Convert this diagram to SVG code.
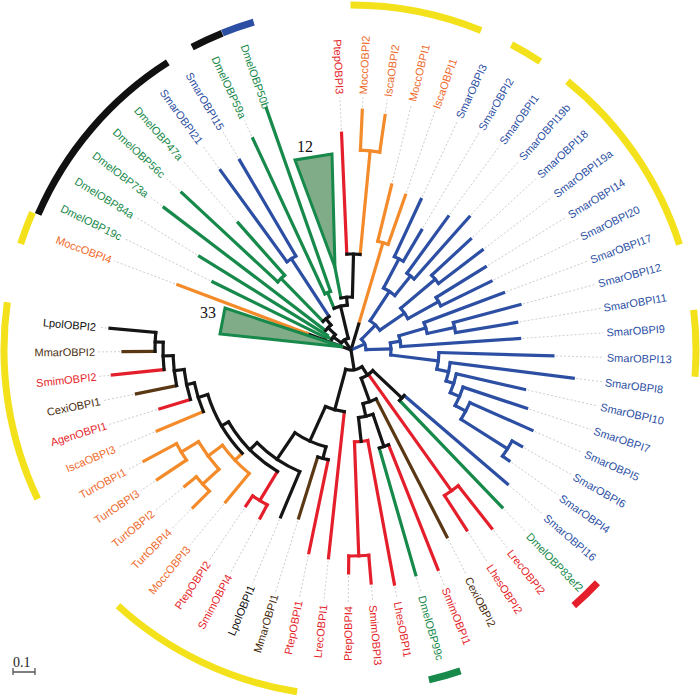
<svg xmlns="http://www.w3.org/2000/svg" width="700" height="696" viewBox="0 0 700 696">
<style>
.t line,.t circle{fill:none;stroke-width:3.2;stroke-linecap:square}
.k{stroke:#151515}.b{stroke:#2c4fa3}.g{stroke:#17894b}.r{stroke:#e41f2b}.o{stroke:#f48b2a}.n{stroke:#5a3814}
.d line{stroke:#c4c4c4;stroke-width:0.8;stroke-dasharray:2 2}
text{font-family:"Liberation Sans",Arial,sans-serif;font-size:11px;dominant-baseline:central}
.L{text-anchor:end}
.tb{fill:#2c4fa3}.tg{fill:#17894b}.tr{fill:#e41f2b}.to{fill:#ee6a2c}.tn{fill:#4a2e10}.tk{fill:#111}
.oa circle{fill:none;stroke-width:7}
.num{font-family:"Liberation Serif",serif;font-size:16px;fill:#111;dominant-baseline:auto}
</style>
<rect width="700" height="696" fill="#fff"/>
<g transform="translate(351,350)">
<g id="outer" class="oa">
<circle r="345" stroke="#f3e21b" transform="rotate(-90.08)" stroke-dasharray="133.9 3000"/>
<circle r="345" stroke="#f3e21b" transform="rotate(-62.28)" stroke-dasharray="33.48 3000"/>
<circle r="345" stroke="#f3e21b" transform="rotate(-51.16)" stroke-dasharray="200.9 3000"/>
<circle r="345" stroke="#f3e21b" transform="rotate(-6.68)" stroke-dasharray="66.96 3000"/>
<circle r="339" stroke="#e41f2b" transform="rotate(43.36)" stroke-dasharray="32.9 3000"/>
<circle r="339" stroke="#17894b" transform="rotate(71.16)" stroke-dasharray="32.9 3000"/>
<circle r="346" stroke="#f3e21b" transform="rotate(98.96)" stroke-dasharray="201.45 3000"/>
<circle r="347" stroke="#f3e21b" transform="rotate(154.56)" stroke-dasharray="202 3000"/>
<circle r="347" stroke="#f3e21b" transform="rotate(197.82)" stroke-dasharray="33.67 3000"/>
<circle r="341" stroke="#111" transform="rotate(203.42)" stroke-dasharray="202.8 3000"/>
<circle r="342" stroke="#111" transform="rotate(242.32)" stroke-dasharray="33.19 3000"/>
<circle r="342" stroke="#2c4fa3" transform="rotate(247.92)" stroke-dasharray="33.19 3000"/>
</g>
<g id="leaders" class="d">
<line x1="243" x2="253" transform="rotate(-87.3)"/><line x1="240" x2="253" transform="rotate(-81.74)"/><line x1="173" x2="253" transform="rotate(-76.18)"/><line x1="167" x2="253" transform="rotate(-70.62)"/>
<line x1="169" x2="253" transform="rotate(-65.06)"/><line x1="142" x2="253" transform="rotate(-59.5)"/><line x1="168" x2="253" transform="rotate(-53.94)"/><line x1="181" x2="253" transform="rotate(-48.38)"/>
<line x1="166" x2="253" transform="rotate(-42.82)"/><line x1="168" x2="253" transform="rotate(-37.26)"/><line x1="161" x2="253" transform="rotate(-31.7)"/><line x1="159" x2="253" transform="rotate(-26.14)"/>
<line x1="166" x2="253" transform="rotate(-20.58)"/><line x1="178" x2="253" transform="rotate(-15.02)"/><line x1="171" x2="253" transform="rotate(-9.46)"/><line x1="172" x2="253" transform="rotate(-3.9)"/>
<line x1="205" x2="253" transform="rotate(1.66)"/><line x1="227" x2="253" transform="rotate(7.22)"/><line x1="181" x2="253" transform="rotate(12.78)"/><line x1="188" x2="253" transform="rotate(18.34)"/>
<line x1="201" x2="253" transform="rotate(23.9)"/><line x1="199" x2="253" transform="rotate(29.46)"/><line x1="196" x2="253" transform="rotate(35.02)"/><line x1="209" x2="253" transform="rotate(40.58)"/>
<line x1="221" x2="253" transform="rotate(46.14)"/><line x1="230" x2="253" transform="rotate(51.7)"/><line x1="217" x2="253" transform="rotate(57.26)"/><line x1="213" x2="253" transform="rotate(62.82)"/>
<line x1="239" x2="253" transform="rotate(68.38)"/><line x1="237" x2="253" transform="rotate(73.94)"/><line x1="241" x2="253" transform="rotate(79.5)"/><line x1="237" x2="253" transform="rotate(85.06)"/>
<line x1="226" x2="253" transform="rotate(90.62)"/><line x1="212" x2="253" transform="rotate(96.18)"/><line x1="210" x2="253" transform="rotate(101.74)"/><line x1="179" x2="253" transform="rotate(107.3)"/>
<line x1="184" x2="253" transform="rotate(112.86)"/><line x1="194" x2="253" transform="rotate(118.42)"/><line x1="191" x2="253" transform="rotate(123.98)"/><line x1="200" x2="253" transform="rotate(129.54)"/>
<line x1="226" x2="253" transform="rotate(135.1)"/><line x1="218" x2="253" transform="rotate(140.66)"/><line x1="236" x2="253" transform="rotate(146.22)"/><line x1="238" x2="253" transform="rotate(151.78)"/>
<line x1="213" x2="253" transform="rotate(157.34)"/><line x1="203" x2="253" transform="rotate(162.9)"/><line x1="222" x2="253" transform="rotate(168.46)"/><line x1="243" x2="253" transform="rotate(174.02)"/>
<line x1="231" x2="253" transform="rotate(179.58)"/><line x1="245" x2="253" transform="rotate(185.14)"/><line x1="188" x2="253" transform="rotate(200.6)"/><line x1="157" x2="253" transform="rotate(206.2)"/>
<line x1="181" x2="253" transform="rotate(211.7)"/><line x1="238" x2="253" transform="rotate(217.3)"/><line x1="234" x2="253" transform="rotate(222.9)"/><line x1="173" x2="253" transform="rotate(228.4)"/>
<line x1="225" x2="253" transform="rotate(234)"/><line x1="223" x2="253" transform="rotate(239.6)"/><line x1="236" x2="253" transform="rotate(245.1)"/><line x1="220" x2="253" transform="rotate(267.5)"/>
</g>
<g id="connectors" class="t">
<line class="r" x1="96" x2="217" transform="rotate(267.5)"/>
<line class="o" x1="200" x2="240" transform="rotate(272.7)"/>
<line class="o" x1="200" x2="237" transform="rotate(278.26)"/>
<circle class="o" r="200" transform="rotate(272.7)" stroke-dasharray="19.41 3000"/>
<line class="o" x1="96" x2="200" transform="rotate(275.48)"/>
<circle class="k" r="96" transform="rotate(267.5)" stroke-dasharray="13.37 3000"/>
<line class="k" x1="53" x2="96" transform="rotate(271.5)"/>
<line class="g" x1="53" x2="84" transform="rotate(259)"/>
<circle class="k" r="53" transform="rotate(259)" stroke-dasharray="11.56 3000"/>
<line class="k" x1="45" x2="53" transform="rotate(265.25)"/>
<line class="g" x1="62" x2="233" transform="rotate(245.1)"/>
<line class="g" x1="62" x2="256" transform="rotate(250.7)"/>
<circle class="g" r="62" transform="rotate(245.1)" stroke-dasharray="6.06 3000"/>
<line class="g" x1="45" x2="62" transform="rotate(247.9)"/>
<circle class="k" r="45" transform="rotate(247.9)" stroke-dasharray="13.63 3000"/>
<line class="k" x1="12" x2="45" transform="rotate(256.6)"/>
<line class="b" x1="109" x2="222" transform="rotate(234)"/>
<line class="b" x1="109" x2="220" transform="rotate(239.6)"/>
<circle class="b" r="109" transform="rotate(234)" stroke-dasharray="10.65 3000"/>
<line class="b" x1="40" x2="109" transform="rotate(236.8)"/>
<line class="g" x1="100" x2="231" transform="rotate(222.9)"/>
<line class="g" x1="100" x2="170" transform="rotate(228.4)"/>
<circle class="g" r="100" transform="rotate(222.9)" stroke-dasharray="9.6 3000"/>
<line class="g" x1="40" x2="100" transform="rotate(225.65)"/>
<circle class="k" r="40" transform="rotate(225.65)" stroke-dasharray="7.78 3000"/>
<line class="k" x1="32" x2="40" transform="rotate(231.2)"/>
<line class="g" x1="32" x2="235" transform="rotate(217.3)"/>
<circle class="k" r="32" transform="rotate(217.3)" stroke-dasharray="7.76 3000"/>
<line class="k" x1="22" x2="32" transform="rotate(224.3)"/>
<line class="g" x1="28" x2="178" transform="rotate(211.7)"/>
<line class="g" x1="28" x2="154" transform="rotate(206.2)"/>
<circle class="g" r="28" transform="rotate(206.2)" stroke-dasharray="2.69 3000"/>
<line class="g" x1="22" x2="28" transform="rotate(208.95)"/>
<circle class="k" r="22" transform="rotate(208.95)" stroke-dasharray="5.89 3000"/>
<line class="k" x1="12" x2="22" transform="rotate(216.6)"/>
<circle class="k" r="12" transform="rotate(216.6)" stroke-dasharray="8.38 3000"/>
<line class="k" x1="0" x2="12" transform="rotate(236.6)"/>
<line class="k" x1="0" x2="47" transform="rotate(200.6)"/>
<line class="o" x1="47" x2="185" transform="rotate(200.6)"/>
<polygon points="-16,-82.5 -56,-190 -19,-196" fill="#80ad88" stroke="#17894b" stroke-width="3" stroke-linejoin="miter"/>
<polygon points="-8,-3 -126,-42 -131,-16" fill="#80ad88" stroke="#17894b" stroke-width="3" stroke-linejoin="miter"/>
<line class="o" x1="112" x2="170" transform="rotate(-76.18)"/>
<line class="o" x1="112" x2="164" transform="rotate(-70.62)"/>
<circle class="o" r="112" transform="rotate(-76.18)" stroke-dasharray="10.87 3000"/>
<line class="o" x1="27" x2="112" transform="rotate(-73.4)"/>
<line class="k" x1="0" x2="27" transform="rotate(-73.4)"/>
<line class="b" x1="103" x2="166" transform="rotate(-65.06)"/>
<line class="b" x1="103" x2="139" transform="rotate(-59.5)"/>
<circle class="b" r="103" transform="rotate(-65.06)" stroke-dasharray="10 3000"/>
<line class="b" x1="70" x2="103" transform="rotate(-62.28)"/>
<line class="b" x1="95" x2="165" transform="rotate(-53.94)"/>
<line class="b" x1="95" x2="178" transform="rotate(-48.38)"/>
<circle class="b" r="95" transform="rotate(-53.94)" stroke-dasharray="9.22 3000"/>
<line class="b" x1="70" x2="95" transform="rotate(-51.16)"/>
<circle class="b" r="70" transform="rotate(-62.28)" stroke-dasharray="13.59 3000"/>
<line class="b" x1="35" x2="70" transform="rotate(-56.72)"/>
<line class="b" x1="110" x2="163" transform="rotate(-42.82)"/>
<line class="b" x1="110" x2="165" transform="rotate(-37.26)"/>
<circle class="b" r="110" transform="rotate(-42.82)" stroke-dasharray="10.67 3000"/>
<line class="b" x1="65" x2="110" transform="rotate(-40.04)"/>
<line class="b" x1="100" x2="158" transform="rotate(-31.7)"/>
<line class="b" x1="100" x2="156" transform="rotate(-26.14)"/>
<circle class="b" r="100" transform="rotate(-31.7)" stroke-dasharray="9.7 3000"/>
<line class="b" x1="65" x2="100" transform="rotate(-28.92)"/>
<circle class="b" r="65" transform="rotate(-40.04)" stroke-dasharray="12.62 3000"/>
<line class="b" x1="35" x2="65" transform="rotate(-34.48)"/>
<circle class="b" r="35" transform="rotate(-56.72)" stroke-dasharray="13.59 3000"/>
<line class="b" x1="15" x2="35" transform="rotate(-45.6)"/>
<line class="b" x1="106" x2="175" transform="rotate(-15.02)"/>
<line class="b" x1="106" x2="168" transform="rotate(-9.46)"/>
<circle class="b" r="106" transform="rotate(-15.02)" stroke-dasharray="10.29 3000"/>
<line class="b" x1="78" x2="106" transform="rotate(-12.24)"/>
<line class="b" x1="78" x2="163" transform="rotate(-20.58)"/>
<circle class="b" r="78" transform="rotate(-20.58)" stroke-dasharray="11.35 3000"/>
<line class="b" x1="50" x2="78" transform="rotate(-16.41)"/>
<line class="b" x1="50" x2="169" transform="rotate(-3.9)"/>
<circle class="b" r="50" transform="rotate(-16.41)" stroke-dasharray="10.92 3000"/>
<line class="b" x1="40" x2="50" transform="rotate(-10.16)"/>
<line class="b" x1="185" x2="196" transform="rotate(29.46)"/>
<line class="b" x1="185" x2="193" transform="rotate(35.02)"/>
<circle class="b" r="185" transform="rotate(29.46)" stroke-dasharray="17.95 3000"/>
<line class="b" x1="130" x2="185" transform="rotate(32.24)"/>
<line class="b" x1="130" x2="198" transform="rotate(23.9)"/>
<circle class="b" r="130" transform="rotate(23.9)" stroke-dasharray="18.92 3000"/>
<line class="b" x1="118" x2="130" transform="rotate(28.07)"/>
<line class="b" x1="118" x2="185" transform="rotate(18.34)"/>
<circle class="b" r="118" transform="rotate(18.34)" stroke-dasharray="20.04 3000"/>
<line class="b" x1="108" x2="118" transform="rotate(23.2)"/>
<line class="b" x1="108" x2="178" transform="rotate(12.78)"/>
<circle class="b" r="108" transform="rotate(12.78)" stroke-dasharray="19.64 3000"/>
<line class="b" x1="100" x2="108" transform="rotate(18)"/>
<line class="b" x1="100" x2="224" transform="rotate(7.22)"/>
<circle class="b" r="100" transform="rotate(7.22)" stroke-dasharray="18.81 3000"/>
<line class="b" x1="88" x2="100" transform="rotate(12.6)"/>
<line class="b" x1="88" x2="202" transform="rotate(1.66)"/>
<circle class="b" r="88" transform="rotate(1.66)" stroke-dasharray="16.8 3000"/>
<line class="b" x1="40" x2="88" transform="rotate(7.13)"/>
<circle class="b" r="40" transform="rotate(-10.16)" stroke-dasharray="12.07 3000"/>
<line class="b" x1="15" x2="40" transform="rotate(-1.52)"/>
<circle class="b" r="15" transform="rotate(-45.6)" stroke-dasharray="11.54 3000"/>
<line class="b" x1="0" x2="15" transform="rotate(-23.56)"/>
<line class="b" x1="70" x2="206" transform="rotate(40.58)"/>
<line class="g" x1="70" x2="218" transform="rotate(46.14)"/>
<circle class="k" r="70" transform="rotate(40.58)" stroke-dasharray="6.79 3000"/>
<line class="k" x1="30" x2="70" transform="rotate(43.36)"/>
<line class="r" x1="173" x2="227" transform="rotate(51.7)"/>
<line class="r" x1="173" x2="214" transform="rotate(57.26)"/>
<circle class="r" r="173" transform="rotate(51.7)" stroke-dasharray="16.79 3000"/>
<line class="r" x1="30" x2="173" transform="rotate(54.48)"/>
<line class="r" x1="102" x2="236" transform="rotate(68.38)"/>
<line class="g" x1="102" x2="234" transform="rotate(73.94)"/>
<circle class="k" r="102" transform="rotate(68.38)" stroke-dasharray="9.9 3000"/>
<line class="k" x1="68" x2="102" transform="rotate(71.16)"/>
<line class="r" x1="206" x2="234" transform="rotate(85.06)"/>
<line class="r" x1="206" x2="223" transform="rotate(90.62)"/>
<circle class="r" r="206" transform="rotate(85.06)" stroke-dasharray="19.99 3000"/>
<line class="r" x1="92" x2="206" transform="rotate(87.84)"/>
<line class="r" x1="92" x2="238" transform="rotate(79.5)"/>
<circle class="r" r="92" transform="rotate(79.5)" stroke-dasharray="13.39 3000"/>
<line class="k" x1="68" x2="92" transform="rotate(83.67)"/>
<circle class="k" r="68" transform="rotate(71.16)" stroke-dasharray="14.85 3000"/>
<line class="k" x1="55" x2="68" transform="rotate(77.4)"/>
<line class="n" x1="55" x2="210" transform="rotate(62.82)"/>
<circle class="k" r="55" transform="rotate(62.82)" stroke-dasharray="14 3000"/>
<line class="k" x1="30" x2="55" transform="rotate(70.1)"/>
<circle class="k" r="30" transform="rotate(43.36)" stroke-dasharray="14 3000"/>
<line class="k" x1="20" x2="30" transform="rotate(56.73)"/>
<line class="k" x1="196" x2="242" transform="rotate(185.14)"/>
<line class="n" x1="196" x2="228" transform="rotate(179.58)"/>
<circle class="k" r="196" transform="rotate(179.58)" stroke-dasharray="19.02 3000"/>
<line class="k" x1="188" x2="196" transform="rotate(182.36)"/>
<line class="r" x1="188" x2="240" transform="rotate(174.02)"/>
<circle class="k" r="188" transform="rotate(174.02)" stroke-dasharray="27.36 3000"/>
<line class="k" x1="178" x2="188" transform="rotate(178.19)"/>
<line class="n" x1="178" x2="219" transform="rotate(168.46)"/>
<circle class="k" r="178" transform="rotate(168.46)" stroke-dasharray="30.23 3000"/>
<line class="k" x1="168" x2="178" transform="rotate(173.33)"/>
<line class="r" x1="168" x2="200" transform="rotate(162.9)"/>
<circle class="k" r="168" transform="rotate(162.9)" stroke-dasharray="30.58 3000"/>
<line class="k" x1="160" x2="168" transform="rotate(168.1)"/>
<line class="o" x1="160" x2="210" transform="rotate(157.34)"/>
<circle class="k" r="160" transform="rotate(157.34)" stroke-dasharray="30.05 3000"/>
<line class="k" x1="150" x2="160" transform="rotate(162.72)"/>
<line class="o" x1="198" x2="235" transform="rotate(151.78)"/>
<line class="o" x1="198" x2="233" transform="rotate(146.22)"/>
<circle class="o" r="198" transform="rotate(146.22)" stroke-dasharray="19.21 3000"/>
<line class="o" x1="178" x2="198" transform="rotate(149)"/>
<line class="o" x1="200" x2="215" transform="rotate(140.66)"/>
<line class="o" x1="200" x2="223" transform="rotate(135.1)"/>
<circle class="o" r="200" transform="rotate(135.1)" stroke-dasharray="19.41 3000"/>
<line class="o" x1="178" x2="200" transform="rotate(137.88)"/>
<circle class="o" r="178" transform="rotate(137.88)" stroke-dasharray="34.55 3000"/>
<line class="o" x1="160" x2="178" transform="rotate(143.44)"/>
<line class="o" x1="160" x2="197" transform="rotate(129.54)"/>
<circle class="o" r="160" transform="rotate(129.54)" stroke-dasharray="38.82 3000"/>
<line class="o" x1="150" x2="160" transform="rotate(136.49)"/>
<circle class="k" r="150" transform="rotate(136.49)" stroke-dasharray="68.67 3000"/>
<line class="k" x1="142" x2="150" transform="rotate(149.6)"/>
<line class="r" x1="176" x2="191" transform="rotate(118.42)"/>
<line class="r" x1="176" x2="188" transform="rotate(123.98)"/>
<circle class="r" r="176" transform="rotate(118.42)" stroke-dasharray="17.08 3000"/>
<line class="r" x1="142" x2="176" transform="rotate(121.2)"/>
<circle class="k" r="142" transform="rotate(121.2)" stroke-dasharray="70.38 3000"/>
<line class="k" x1="132" x2="142" transform="rotate(135.4)"/>
<line class="k" x1="132" x2="181" transform="rotate(112.86)"/>
<circle class="k" r="132" transform="rotate(112.86)" stroke-dasharray="51.93 3000"/>
<line class="k" x1="100" x2="132" transform="rotate(124.13)"/>
<line class="n" x1="112" x2="176" transform="rotate(107.3)"/>
<line class="r" x1="112" x2="207" transform="rotate(101.74)"/>
<circle class="k" r="112" transform="rotate(101.74)" stroke-dasharray="10.87 3000"/>
<line class="k" x1="100" x2="112" transform="rotate(104.52)"/>
<circle class="k" r="100" transform="rotate(104.52)" stroke-dasharray="34.23 3000"/>
<line class="k" x1="62" x2="100" transform="rotate(114.33)"/>
<line class="r" x1="62" x2="209" transform="rotate(96.18)"/>
<circle class="k" r="62" transform="rotate(96.18)" stroke-dasharray="19.64 3000"/>
<line class="k" x1="20" x2="62" transform="rotate(105.25)"/>
<circle class="k" r="20" transform="rotate(56.73)" stroke-dasharray="16.94 3000"/>
<line class="k" x1="0" x2="20" transform="rotate(81)"/>
</g>
<g id="labels">
<g id="n-MoccOBPI2"><text class="to" x="256" transform="rotate(-87.3)">MoccOBPI2</text></g>
<g id="n-IscaOBPI2"><text class="to" x="256" transform="rotate(-81.74)">IscaOBPI2</text></g>
<g id="n-MoccOBPI1"><text class="to" x="256" transform="rotate(-76.18)">MoccOBPI1</text></g>
<g id="n-IscaOBPI1"><text class="to" x="256" transform="rotate(-70.62)">IscaOBPI1</text></g>
<g id="n-SmarOBPI3"><text class="tb" x="256" transform="rotate(-65.06)">SmarOBPI3</text></g>
<g id="n-SmarOBPI2"><text class="tb" x="256" transform="rotate(-59.5)">SmarOBPI2</text></g>
<g id="n-SmarOBPI1"><text class="tb" x="256" transform="rotate(-53.94)">SmarOBPI1</text></g>
<g id="n-SmarOBPI19b"><text class="tb" x="256" transform="rotate(-48.38)">SmarOBPI19b</text></g>
<g id="n-SmarOBPI18"><text class="tb" x="256" transform="rotate(-42.82)">SmarOBPI18</text></g>
<g id="n-SmarOBPI19a"><text class="tb" x="256" transform="rotate(-37.26)">SmarOBPI19a</text></g>
<g id="n-SmarOBPI14"><text class="tb" x="256" transform="rotate(-31.7)">SmarOBPI14</text></g>
<g id="n-SmarOBPI20"><text class="tb" x="256" transform="rotate(-26.14)">SmarOBPI20</text></g>
<g id="n-SmarOBPI17"><text class="tb" x="256" transform="rotate(-20.58)">SmarOBPI17</text></g>
<g id="n-SmarOBPI12"><text class="tb" x="256" transform="rotate(-15.02)">SmarOBPI12</text></g>
<g id="n-SmarOBPI11"><text class="tb" x="256" transform="rotate(-9.46)">SmarOBPI11</text></g>
<g id="n-SmarOBPI9"><text class="tb" x="256" transform="rotate(-3.9)">SmarOBPI9</text></g>
<g id="n-SmarOBPI13"><text class="tb" x="256" transform="rotate(1.66)">SmarOBPI13</text></g>
<g id="n-SmarOBPI8"><text class="tb" x="256" transform="rotate(7.22)">SmarOBPI8</text></g>
<g id="n-SmarOBPI10"><text class="tb" x="256" transform="rotate(12.78)">SmarOBPI10</text></g>
<g id="n-SmarOBPI7"><text class="tb" x="256" transform="rotate(18.34)">SmarOBPI7</text></g>
<g id="n-SmarOBPI5"><text class="tb" x="256" transform="rotate(23.9)">SmarOBPI5</text></g>
<g id="n-SmarOBPI6"><text class="tb" x="256" transform="rotate(29.46)">SmarOBPI6</text></g>
<g id="n-SmarOBPI4"><text class="tb" x="256" transform="rotate(35.02)">SmarOBPI4</text></g>
<g id="n-SmarOBPI16"><text class="tb" x="256" transform="rotate(40.58)">SmarOBPI16</text></g>
<g id="n-DmelOBP83ef2"><text class="tg" x="256" transform="rotate(46.14)">DmelOBP83ef2</text></g>
<g id="n-LrecOBPI2"><text class="tr" x="256" transform="rotate(51.7)">LrecOBPI2</text></g>
<g id="n-LhesOBPI2"><text class="tr" x="256" transform="rotate(57.26)">LhesOBPI2</text></g>
<g id="n-CexiOBPI2"><text class="tn" x="256" transform="rotate(62.82)">CexiOBPI2</text></g>
<g id="n-SmimOBPI1"><text class="tr" x="256" transform="rotate(68.38)">SmimOBPI1</text></g>
<g id="n-DmelOBP99c"><text class="tg" x="256" transform="rotate(73.94)">DmelOBP99c</text></g>
<g id="n-LhesOBPI1"><text class="tr" x="256" transform="rotate(79.5)">LhesOBPI1</text></g>
<g id="n-SmimOBPI3"><text class="tr" x="256" transform="rotate(85.06)">SmimOBPI3</text></g>
<g id="n-PtepOBPI4"><text class="tr L" x="-256" transform="rotate(-89.38)">PtepOBPI4</text></g>
<g id="n-LrecOBPI1"><text class="tr L" x="-256" transform="rotate(-83.82)">LrecOBPI1</text></g>
<g id="n-PtepOBPI1"><text class="tr L" x="-256" transform="rotate(-78.26)">PtepOBPI1</text></g>
<g id="n-MmarOBPI1"><text class="tn L" x="-256" transform="rotate(-72.7)">MmarOBPI1</text></g>
<g id="n-LpolOBPI1"><text class="tk L" x="-256" transform="rotate(-67.14)">LpolOBPI1</text></g>
<g id="n-SmimOBPI4"><text class="tr L" x="-256" transform="rotate(-61.58)">SmimOBPI4</text></g>
<g id="n-PtepOBPI2"><text class="tr L" x="-256" transform="rotate(-56.02)">PtepOBPI2</text></g>
<g id="n-MoccOBPI3"><text class="to L" x="-256" transform="rotate(-50.46)">MoccOBPI3</text></g>
<g id="n-TurtOBPI4"><text class="to L" x="-256" transform="rotate(-44.9)">TurtOBPI4</text></g>
<g id="n-TurtOBPI2"><text class="to L" x="-256" transform="rotate(-39.34)">TurtOBPI2</text></g>
<g id="n-TurtOBPI3"><text class="to L" x="-256" transform="rotate(-33.78)">TurtOBPI3</text></g>
<g id="n-TurtOBPI1"><text class="to L" x="-256" transform="rotate(-28.22)">TurtOBPI1</text></g>
<g id="n-IscaOBPI3"><text class="to L" x="-256" transform="rotate(-22.66)">IscaOBPI3</text></g>
<g id="n-AgenOBPI1"><text class="tr L" x="-256" transform="rotate(-17.1)">AgenOBPI1</text></g>
<g id="n-CexiOBPI1"><text class="tn L" x="-256" transform="rotate(-11.54)">CexiOBPI1</text></g>
<g id="n-SmimOBPI2"><text class="tr L" x="-256" transform="rotate(-5.98)">SmimOBPI2</text></g>
<g id="n-MmarOBPI2"><text class="tn L" x="-256" transform="rotate(-0.42)">MmarOBPI2</text></g>
<g id="n-LpolOBPI2"><text class="tk L" x="-256" transform="rotate(5.14)">LpolOBPI2</text></g>
<g id="n-MoccOBPI4"><text class="to L" x="-256" transform="rotate(20.6)">MoccOBPI4</text></g>
<g id="n-DmelOBP19c"><text class="tg L" x="-256" transform="rotate(26.2)">DmelOBP19c</text></g>
<g id="n-DmelOBP84a"><text class="tg L" x="-256" transform="rotate(31.7)">DmelOBP84a</text></g>
<g id="n-DmelOBP73a"><text class="tg L" x="-256" transform="rotate(37.3)">DmelOBP73a</text></g>
<g id="n-DmelOBP56c"><text class="tg L" x="-256" transform="rotate(42.9)">DmelOBP56c</text></g>
<g id="n-DmelOBP47a"><text class="tg L" x="-256" transform="rotate(48.4)">DmelOBP47a</text></g>
<g id="n-SmarOBPI21"><text class="tb L" x="-256" transform="rotate(54)">SmarOBPI21</text></g>
<g id="n-SmarOBPI15"><text class="tb L" x="-256" transform="rotate(59.6)">SmarOBPI15</text></g>
<g id="n-DmelOBP59a"><text class="tg L" x="-256" transform="rotate(65.1)">DmelOBP59a</text></g>
<g id="n-DmelOBP50b"><text class="tg L" x="-256" transform="rotate(70.7)">DmelOBP50b</text></g>
<g id="n-PtepOBPI3"><text class="tr L" x="-256" transform="rotate(87.5)">PtepOBPI3</text></g>
</g>
</g>
<g id="n-collapsed12"><text class="num" x="297" y="152">12</text></g>
<g id="n-collapsed33"><text class="num" x="200" y="318">33</text></g>
<g id="scale">
<text x="13" y="667" style="font-family:'Liberation Serif',serif;font-size:14px;fill:#222;dominant-baseline:auto">0.1</text>
<path d="M13,668V675M35,668V675M13,672H35" stroke="#555" stroke-width="1.3" fill="none"/>
</g>
</svg>
